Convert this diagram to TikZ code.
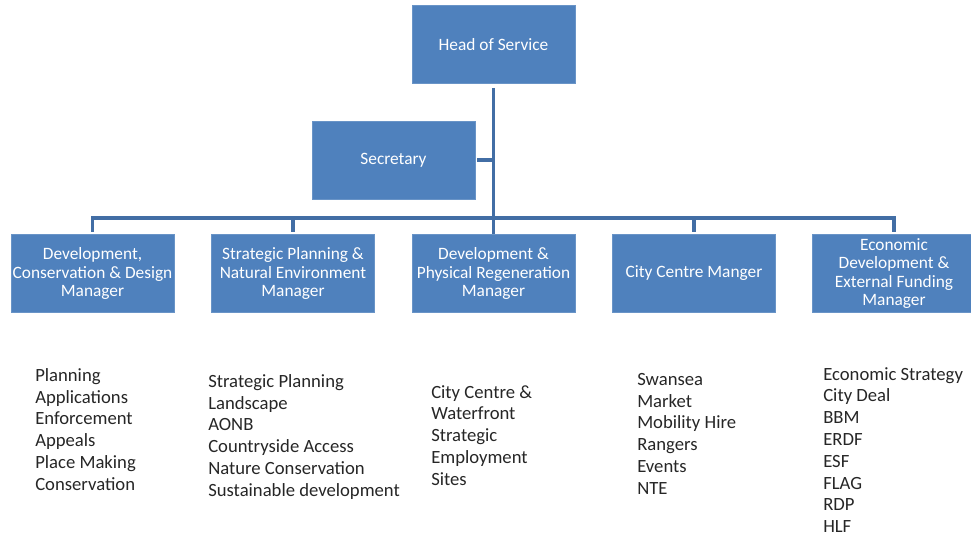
\documentclass[tikz,border=0pt]{standalone}
\usepackage{fontspec}
\setmainfont{Carlito}
\usetikzlibrary{positioning}

\definecolor{boxblue}{RGB}{79,129,189}
\definecolor{lineblue}{RGB}{66,110,165}

\tikzset{
    unit/.style={draw=boxblue!85!white, fill=boxblue, text=white, inner sep=0pt,
        minimum width=122.25pt, minimum height=58.5pt, align=center,
        font=\fontsize{13}{13.9}\selectfont},
    duties/.style={anchor=north west, align=left, inner sep=0pt, text=black!85,
        font=\fontsize{14}{16.35}\selectfont},
    link/.style={draw=lineblue, line width=2.4pt}
}

\begin{document}
\begin{tikzpicture}[x=0.75pt,y=-0.75pt]
    \useasboundingbox (0,0) rectangle (971,537);

    % Head and secretary
    \node[unit] (head) at (493.5,44.5) {Head of Service};
    \node[unit] (sec)  at (393.5,160)  {Secretary};

    % Managers
    \node[unit] (m1) at (92.5,273.5)  {Development,\\Conservation \& Design\\Manager};
    \node[unit] (m2) at (293,273.5)   {Strategic Planning \&\\Natural Environment\\Manager};
    \node[unit] (m3) at (493.5,273.5) {Development \&\\Physical Regeneration\\Manager};
    \node[unit] (m4) at (694,273.5)   {City Centre Manger};
    \node[unit] (m5) at (894,273.5)   {Economic\\Development \&\\External Funding\\Manager};

    % branching coordinate
    \coordinate (bus) at (493.5,218);

    % Lines
    \draw[link, shorten <=3pt] (head.south) -- (m3.north);
    \draw[link, shorten <=1.5pt] (sec.east) -- (sec.east -| head.south);
    \draw[link, shorten <=2pt, shorten >=2pt] (m1.north) |- (bus) -| (m5.north);
    \draw[link, shorten <=2pt] (m2.north) -- (m2.north |- bus);
    \draw[link, shorten <=2pt] (m4.north) -- (m4.north |- bus);

    % Duties
    \node[duties] (l1) at (35,368)  {Planning\\Applications\\Enforcement\\Appeals\\Place Making\\Conservation};
    \node[duties] (l2) at (208,374) {Strategic Planning\\Landscape\\AONB\\Countryside Access\\Nature Conservation\\Sustainable development};
    \node[duties] (l3) at (431,385) {City Centre \&\\Waterfront\\Strategic\\Employment\\Sites};
    \node[duties] (l4) at (637,373) {Swansea\\Market\\Mobility Hire\\Rangers\\Events\\NTE};
    \node[duties] (l5) at (823,367) {Economic Strategy\\City Deal\\BBM\\ERDF\\ESF\\FLAG\\RDP\\HLF};
\end{tikzpicture}
\end{document}
